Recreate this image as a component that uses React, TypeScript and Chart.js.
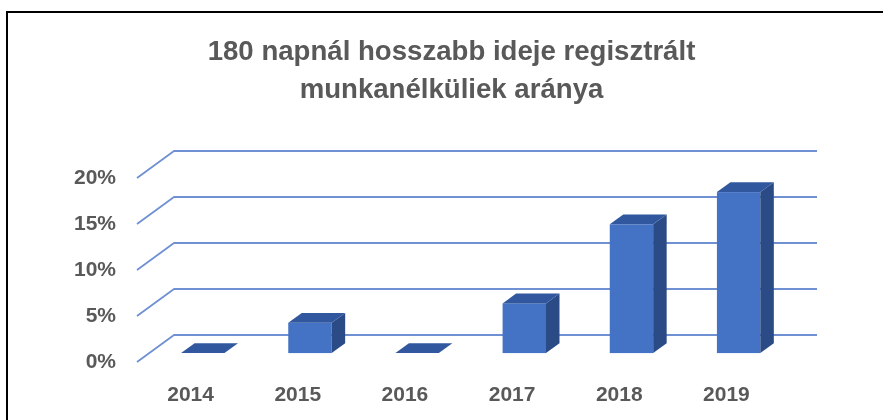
import React, { useEffect, useRef } from "react";
import { Chart, registerables } from "chart.js";

Chart.register(...registerables);

const categories = ["2014", "2015", "2016", "2017", "2018", "2019"];
const values = [0, 3.3, 0, 5.4, 14.0, 17.5];
const yTicks = [0, 5, 10, 15, 20];
const titleLines = ["180 napnál hosszabb ideje regisztrált", "munkanélküliek aránya"];

const FONT = "'Liberation Sans', Arial, sans-serif";
const TEXT = "#595959";
const GRID = "#6F91D4";
const FRONT = "#4472C4";
const SIDE = "#2B4B86";
const TOP = "#31589E";
const DX = 37;
const DY = -27;
const F1 = 0.33;
const F2 = 0.695;

const threeD = {
  id: "threeD",
  afterLayout(chart: any) {
    const t = chart.titleBlock;
    if (t) {
      t.left = 20;
      t.right = chart.width;
    }
  },
  beforeDraw(chart: any) {
    const { ctx, width, height } = chart;
    ctx.save();
    ctx.fillStyle = "#ffffff";
    ctx.fillRect(0, 0, width, height);
    ctx.strokeStyle = "#000000";
    ctx.lineWidth = 2;
    ctx.strokeRect(7, 12, width + 50, height + 50);
    ctx.restore();
  },
  beforeDatasetsDraw(chart: any) {
    const { ctx, chartArea, scales } = chart;
    const y = scales.y;
    ctx.save();
    ctx.strokeStyle = GRID;
    ctx.lineWidth = 1.8;
    ctx.lineJoin = "round";
    for (const t of yTicks) {
      const py = y.getPixelForValue(t);
      ctx.beginPath();
      ctx.moveTo(chartArea.left, py);
      ctx.lineTo(chartArea.left + DX, py + DY);
      ctx.lineTo(chartArea.right + DX, py + DY);
      ctx.stroke();
    }
    ctx.restore();
  },
  afterDatasetsDraw(chart: any) {
    const { ctx } = chart;
    const meta = chart.getDatasetMeta(0);
    const ox = F1 * DX;
    const oy = F1 * DY;
    const dx = (F2 - F1) * DX;
    const dy = (F2 - F1) * DY;
    ctx.save();
    meta.data.forEach((bar: any) => {
      const { x, y, base, width } = bar.getProps(["x", "y", "base", "width"], true);
      const left = x - width / 2 + ox;
      const right = x + width / 2 + ox;
      const top = y + oy;
      const bottom = base + oy;
      if (bottom - top > 0.5) {
        ctx.fillStyle = FRONT;
        ctx.fillRect(left, top, right - left, bottom - top);
        ctx.fillStyle = SIDE;
        ctx.beginPath();
        ctx.moveTo(right, top);
        ctx.lineTo(right + dx, top + dy);
        ctx.lineTo(right + dx, bottom + dy);
        ctx.lineTo(right, bottom);
        ctx.closePath();
        ctx.fill();
      }
      ctx.fillStyle = TOP;
      ctx.beginPath();
      ctx.moveTo(left, top);
      ctx.lineTo(left + dx, top + dy);
      ctx.lineTo(right + dx, top + dy);
      ctx.lineTo(right, top);
      ctx.closePath();
      ctx.fill();
    });
    ctx.restore();
  },
};

export default function App() {
  const canvasRef = useRef<HTMLCanvasElement | null>(null);

  useEffect(() => {
    const canvas = canvasRef.current;
    if (!canvas) return;
    const tickFont = { family: FONT, size: 21, weight: "bold" as const };
    const chart = new Chart(canvas, {
      type: "bar",
      data: {
        labels: categories,
        datasets: [
          {
            label: "arány",
            data: values,
            backgroundColor: "rgba(0,0,0,0)",
            borderWidth: 0,
            barPercentage: 0.405,
            categoryPercentage: 1,
          },
        ],
      },
      options: {
        animation: false,
        responsive: false,
        devicePixelRatio: 1,
        layout: { padding: { left: 0, right: 103, top: 0, bottom: 0 } },
        plugins: {
          legend: { display: false },
          tooltip: { enabled: false },
          title: {
            display: true,
            text: titleLines,
            color: TEXT,
            font: { family: FONT, size: 27.6, weight: "bold", lineHeight: 1.37 },
            padding: { top: 33.5, bottom: 68.9 },
          },
        },
        scales: {
          x: {
            type: "category",
            grid: { display: false, drawTicks: false },
            border: { display: false },
            ticks: { color: TEXT, font: tickFont, padding: 21, maxRotation: 0 },
            afterFit: (s: any) => {
              s.height = 58;
            },
          },
          y: {
            type: "linear",
            min: 0,
            max: 20,
            grid: { display: false, drawTicks: false },
            border: { display: false },
            ticks: {
              stepSize: 5,
              color: TEXT,
              font: tickFont,
              padding: 21,
              callback: (v: any) => `${v}%`,
            },
            afterFit: (s: any) => {
              s.width = 137;
            },
          },
        },
      },
      plugins: [threeD],
    });
    return () => chart.destroy();
  }, []);

  return (
    <div style={{ position: "fixed", left: 0, top: 0, width: 883, height: 420, background: "#fff" }}>
      <canvas ref={canvasRef} width={883} height={420} style={{ display: "block" }} />
    </div>
  );
}
